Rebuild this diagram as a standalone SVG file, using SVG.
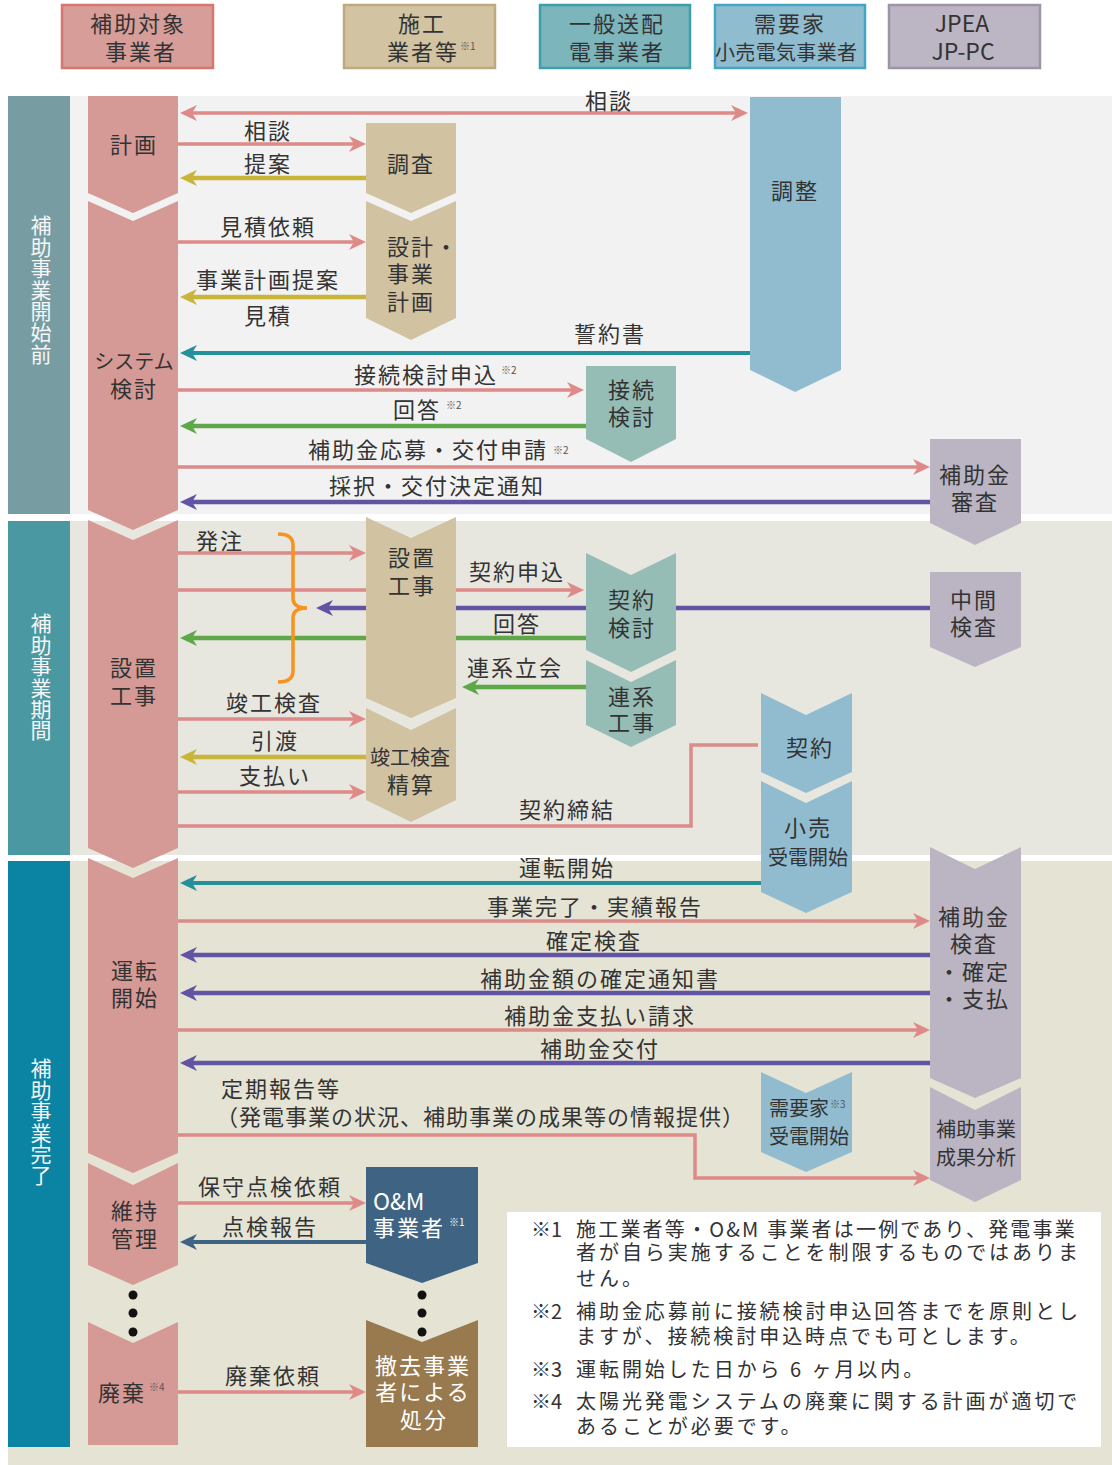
<svg xmlns="http://www.w3.org/2000/svg" width="1112" height="1465" viewBox="0 0 1112 1465">
<style>
text{font-family:"Noto Sans CJK JP","Noto Sans",sans-serif;fill:#333;font-size:22px;letter-spacing:2px;text-anchor:middle}
.st{text-anchor:start}
.s{font-size:20px;letter-spacing:0}
.sup{font-size:10px;letter-spacing:0;fill:#555}
.w{fill:#fff}
.lat{font-size:23px;letter-spacing:0}
.side{fill:#f6f6f6;font-size:21px;letter-spacing:0.4px;writing-mode:vertical-rl;text-anchor:start}
.note{font-size:20px;letter-spacing:2.95px;text-anchor:start;fill:#333}
.nm{font-size:20px;letter-spacing:0;text-anchor:start;fill:#333}
.hp{fill:#d79d99;stroke:#d67670;stroke-width:2.5}
.hb{fill:#d2c3a3;stroke:#bfa97f;stroke-width:2.5}
.ht{fill:#7db5bd;stroke:#3ca0aa;stroke-width:2.5}
.hl{fill:#90bcd0;stroke:#45a6c4;stroke-width:2.5}
.hv{fill:#bcb5c4;stroke:#9d95a5;stroke-width:2.5}
.np{fill:#d69a96}
.nb{fill:#d1c2a2}
.nt{fill:#95bdb6}
.nl{fill:#91bcd0}
.nv{fill:#bbb5c3}
.line{fill:none}
.cp{stroke:#dd8a88;stroke-width:3.5}
.cy{stroke:#c9b53a;stroke-width:4.5}
.ct{stroke:#24909a;stroke-width:4}
.cg{stroke:#5ea84a;stroke-width:4.5}
.cv{stroke:#6154a3;stroke-width:4.5}
.cd{stroke:#3f6483;stroke-width:4}
</style>
<defs>
<marker id="mp" markerUnits="userSpaceOnUse" markerWidth="18" markerHeight="18" viewBox="0 0 18 18" refX="9" refY="9" orient="auto-start-reverse"><path d="M0,1 L17,9 L0,17 L5,9 Z" fill="#dd8a88"/></marker>
<marker id="my" markerUnits="userSpaceOnUse" markerWidth="18" markerHeight="18" viewBox="0 0 18 18" refX="9" refY="9" orient="auto"><path d="M0,1 L17,9 L0,17 L5,9 Z" fill="#c9b53a"/></marker>
<marker id="mt" markerUnits="userSpaceOnUse" markerWidth="18" markerHeight="18" viewBox="0 0 18 18" refX="9" refY="9" orient="auto"><path d="M0,1 L17,9 L0,17 L5,9 Z" fill="#24909a"/></marker>
<marker id="mg" markerUnits="userSpaceOnUse" markerWidth="18" markerHeight="18" viewBox="0 0 18 18" refX="9" refY="9" orient="auto"><path d="M0,1 L17,9 L0,17 L5,9 Z" fill="#5ea84a"/></marker>
<marker id="mv" markerUnits="userSpaceOnUse" markerWidth="18" markerHeight="18" viewBox="0 0 18 18" refX="9" refY="9" orient="auto"><path d="M0,1 L17,9 L0,17 L5,9 Z" fill="#6154a3"/></marker>
<marker id="md" markerUnits="userSpaceOnUse" markerWidth="18" markerHeight="18" viewBox="0 0 18 18" refX="9" refY="9" orient="auto"><path d="M0,1 L17,9 L0,17 L5,9 Z" fill="#3f6483"/></marker>
</defs>
<rect x="0" y="0" width="1112" height="1465" fill="#fff"/>

<g id="headers">
<g id="h-hojo"><rect class="hp" x="62" y="5" width="151" height="63"/><text><tspan x="138" y="32">補助対象</tspan><tspan x="141" y="60">事業者</tspan></text></g>
<g id="h-seko"><rect class="hb" x="344" y="5" width="151" height="63"/><text class="st"><tspan x="398" y="32">施工</tspan><tspan x="387" y="60">業者等</tspan><tspan class="sup" dx="1" dy="-10">※1</tspan></text></g>
<g id="h-ippan"><rect class="ht" x="540" y="5" width="150" height="63"/><text><tspan x="617" y="32">一般送配</tspan><tspan x="617" y="60">電事業者</tspan></text></g>
<g id="h-juyo"><rect class="hl" x="715" y="5" width="150" height="63"/><text x="790" y="32">需要家</text><text x="786" y="60" class="s" textLength="142" lengthAdjust="spacing">小売電気事業者</text></g>
<g id="h-jpea"><rect class="hv" x="889" y="5" width="151" height="63"/><text class="lat"><tspan x="962" y="32">JPEA</tspan><tspan x="963" y="60">JP-PC</tspan></text></g>
</g>

<g id="sections">
<rect x="8" y="96" width="1104" height="418" fill="#f2f2f2"/>
<rect x="8" y="96" width="62" height="418" fill="#779da3"/>
<rect x="8" y="521" width="1104" height="334" fill="#e7e6df"/>
<rect x="8" y="521" width="62" height="334" fill="#4a98a1"/>
<rect x="8" y="861" width="1104" height="604" fill="#e5e3d4"/>
<rect x="8" y="861" width="62" height="586" fill="#0b84a3"/>
<text class="side" x="41" y="215">補助事業開始前</text>
<text class="side" x="41" y="613">補助事業期間</text>
<text class="side" x="41" y="1058">補助事業完了</text>
</g>

<g id="connectors" class="line">
<path class="cp" d="M188,113 H740" marker-start="url(#mp)" marker-end="url(#mp)"/>
<path class="cp" d="M178,144 H358" marker-end="url(#mp)"/>
<path class="cy" d="M366,178 H188" marker-end="url(#my)"/>
<path class="cp" d="M178,242 H358" marker-end="url(#mp)"/>
<path class="cy" d="M366,297 H188" marker-end="url(#my)"/>
<path class="ct" d="M750,353 H188" marker-end="url(#mt)"/>
<path class="cp" d="M178,390 H576" marker-end="url(#mp)"/>
<path class="cg" d="M586,426 H188" marker-end="url(#mg)"/>
<path class="cp" d="M178,467 H922" marker-end="url(#mp)"/>
<path class="cv" d="M930,502 H188" marker-end="url(#mv)"/>
<path class="cp" d="M178,553 H358" marker-end="url(#mp)"/>
<path class="cp" d="M178,590 H576" marker-end="url(#mp)"/>
<path class="cv" d="M930,608 H324" marker-end="url(#mv)"/>
<path class="cg" d="M586,638 H188" marker-end="url(#mg)"/>
<path class="cg" d="M586,687 H470" marker-end="url(#mg)"/>
<path d="M278,534 Q293,534 293,545 V598 Q293,608 307,608 Q293,608 293,618 V671 Q293,682 278,682" stroke="#f7931e" stroke-width="3.5"/>
<path class="cp" d="M178,719 H358" marker-end="url(#mp)"/>
<path class="cy" d="M366,757 H188" marker-end="url(#my)"/>
<path class="cp" d="M178,792 H358" marker-end="url(#mp)"/>
<path class="cp" d="M178,826 H691 V745 H758"/>
<path class="ct" d="M761,883 H188" marker-end="url(#mt)"/>
<path class="cp" d="M178,921 H922" marker-end="url(#mp)"/>
<path class="cv" d="M930,955 H188" marker-end="url(#mv)"/>
<path class="cv" d="M930,993 H188" marker-end="url(#mv)"/>
<path class="cp" d="M178,1030 H922" marker-end="url(#mp)"/>
<path class="cv" d="M930,1063 H188" marker-end="url(#mv)"/>
<path class="cp" d="M178,1135 H695 V1178 H922" marker-end="url(#mp)"/>
<path class="cp" d="M178,1203 H358" marker-end="url(#mp)"/>
<path class="cd" d="M366,1242 H188" marker-end="url(#md)"/>
<path class="cp" d="M178,1392 H358" marker-end="url(#mp)"/>
</g>

<g id="connector-labels">
<text x="609" y="109">相談</text>
<text x="268" y="139">相談</text>
<text x="268" y="172">提案</text>
<text x="268" y="235">見積依頼</text>
<text x="268" y="288">事業計画提案</text>
<text x="268" y="324">見積</text>
<text x="610" y="342">誓約書</text>
<text class="st" x="354" y="383">接続検討申込<tspan class="sup" dx="3" dy="-9">※2</tspan></text>
<text class="st" x="393" y="418">回答<tspan class="sup" dx="5" dy="-9">※2</tspan></text>
<text class="st" x="308" y="458">補助金応募・交付申請<tspan class="sup" dx="5" dy="-4">※2</tspan></text>
<text x="437" y="494">採択・交付決定通知</text>
<text x="220" y="549">発注</text>
<text x="517" y="580">契約申込</text>
<text x="517" y="632">回答</text>
<text x="515" y="676">連系立会</text>
<text x="274" y="711">竣工検査</text>
<text x="275" y="749">引渡</text>
<text x="275" y="784">支払い</text>
<text x="567" y="818">契約締結</text>
<text x="567" y="876">運転開始</text>
<text x="595" y="915">事業完了・実績報告</text>
<text x="594" y="949">確定検査</text>
<text x="600" y="987">補助金額の確定通知書</text>
<text x="600" y="1024">補助金支払い請求</text>
<text x="600" y="1057">補助金交付</text>
<text class="st"><tspan x="221" y="1097">定期報告等</tspan><tspan x="216" y="1125" letter-spacing="1px">（発電事業の状況、補助事業の成果等の情報提供）</tspan></text>
<text x="270" y="1195">保守点検依頼</text>
<text x="270" y="1235">点検報告</text>
<text x="273" y="1384">廃棄依頼</text>
</g>

<g id="n-keikaku"><polygon class="np" points="88,96 178,96 178,193 133,213 88,193"/><text x="134" y="153">計画</text></g>
<g id="n-system"><polygon class="np" points="88,201 133,221 178,201 178,510 133,530 88,510"/><text><tspan class="s" x="134" y="369" letter-spacing="-1.3px">システム</tspan><tspan x="134" y="397">検討</tspan></text></g>
<g id="n-secchi-p"><polygon class="np" points="88,520 133,540 178,520 178,848 133,868 88,848"/><text><tspan x="134" y="676">設置</tspan><tspan x="134" y="704">工事</tspan></text></g>
<g id="n-unten"><polygon class="np" points="88,858 133,878 178,858 178,1153 133,1173 88,1153"/><text><tspan x="135" y="979">運転</tspan><tspan x="135" y="1006">開始</tspan></text></g>
<g id="n-iji"><polygon class="np" points="88,1163 133,1185 178,1163 178,1265 133,1285 88,1265"/><text><tspan x="135" y="1219">維持</tspan><tspan x="135" y="1247">管理</tspan></text></g>
<g id="dots-p"><circle cx="133" cy="1295" r="4.5" fill="#111"/><circle cx="133" cy="1313" r="4.5" fill="#111"/><circle cx="133" cy="1332" r="4.5" fill="#111"/></g>
<g id="n-haiki"><polygon class="np" points="88,1322 133,1343 178,1322 178,1445 88,1445"/><text class="st" x="98" y="1401">廃棄<tspan class="sup" dx="3" dy="-10">※4</tspan></text></g>

<g id="n-chosa"><polygon class="nb" points="366,123 456,123 456,193 411,213 366,193"/><text x="411" y="172">調査</text></g>
<g id="n-sekkei"><polygon class="nb" points="366,201 411,221 456,201 456,318 411,340 366,318"/><text class="st"><tspan x="387" y="255">設計・</tspan><tspan x="387" y="282">事業</tspan><tspan x="387" y="310">計画</tspan></text></g>
<g id="n-secchi-b"><polygon class="nb" points="366,517 411,538 456,517 456,698 411,718 366,698"/><text><tspan x="412" y="566">設置</tspan><tspan x="412" y="594">工事</tspan></text></g>
<g id="n-shunko"><polygon class="nb" points="366,708 411,730 456,708 456,800 411,822 366,800"/><text><tspan class="s" x="410" y="765">竣工検査</tspan><tspan x="411" y="793">精算</tspan></text></g>
<g id="n-om"><polygon points="366,1167 478,1167 478,1263 422,1283 366,1263" fill="#3f6483"/><text class="st w"><tspan class="lat" x="373" y="1210">O&amp;M</tspan><tspan x="373" y="1236">事業者</tspan><tspan class="sup w" dx="4" dy="-10">※1</tspan></text></g>
<g id="dots-b"><circle cx="422" cy="1295" r="4.5" fill="#111"/><circle cx="422" cy="1313" r="4.5" fill="#111"/><circle cx="422" cy="1332" r="4.5" fill="#111"/></g>
<g id="n-tekkyo"><polygon points="366,1320 422,1342 478,1320 478,1447 366,1447" fill="#987a4e"/><text class="w"><tspan x="423" y="1374">撤去事業</tspan><tspan x="423" y="1400">者による</tspan><tspan x="424" y="1428">処分</tspan></text></g>

<g id="n-setsuzoku"><polygon class="nt" points="586,366 676,366 676,439 631,462 586,439"/><text><tspan x="632" y="398">接続</tspan><tspan x="632" y="425">検討</tspan></text></g>
<g id="n-keiyakukento"><polygon class="nt" points="586,553 631,575 676,553 676,650 631,672 586,650"/><text><tspan x="632" y="608">契約</tspan><tspan x="632" y="636">検討</tspan></text></g>
<g id="n-renkei"><polygon class="nt" points="586,660 631,682 676,660 676,725 631,747 586,725"/><text><tspan x="632" y="705">連系</tspan><tspan x="632" y="731">工事</tspan></text></g>

<g id="n-chosei"><polygon class="nl" points="750,97 841,97 841,370 795,392 750,370"/><text x="795" y="199">調整</text></g>
<g id="n-keiyaku"><polygon class="nl" points="761,693 806,715 852,693 852,772 806,793 761,772"/><text x="810" y="756">契約</text></g>
<g id="n-kouri"><polygon class="nl" points="761,781 806,803 852,781 852,892 806,913 761,892"/><text><tspan x="808" y="836">小売</tspan><tspan class="s" x="808" y="865">受電開始</tspan></text></g>
<g id="n-juyoka"><polygon class="nl" points="761,1072 806,1093 852,1072 852,1152 806,1172 761,1152"/><text class="st s"><tspan x="769" y="1116">需要家</tspan><tspan class="sup" dx="1" dy="-8">※3</tspan><tspan x="769" y="1144">受電開始</tspan></text></g>

<g id="n-shinsa"><polygon class="nv" points="930,439 1021,439 1021,523 975,545 930,523"/><text><tspan x="975" y="483">補助金</tspan><tspan x="975" y="510">審査</tspan></text></g>
<g id="n-chukan"><polygon class="nv" points="930,572 1021,572 1021,647 975,667 930,647"/><text><tspan x="974" y="608">中間</tspan><tspan x="974" y="635">検査</tspan></text></g>
<g id="n-kensa"><polygon class="nv" points="930,847 975,869 1021,847 1021,1078 975,1098 930,1078"/><text><tspan x="974" y="925">補助金</tspan><tspan x="974" y="952">検査</tspan><tspan x="974" y="980">・確定</tspan><tspan x="974" y="1007">・支払</tspan></text></g>
<g id="n-seika"><polygon class="nv" points="930,1087 975,1110 1021,1087 1021,1180 975,1202 930,1180"/><text class="s"><tspan x="976" y="1137">補助事業</tspan><tspan x="976" y="1165">成果分析</tspan></text></g>

<g id="notes">
<rect x="507" y="1212" width="594" height="235" fill="#fff"/>
<text class="nm"><tspan x="531" y="1237">※1</tspan><tspan x="531" y="1319">※2</tspan><tspan x="531" y="1377">※3</tspan><tspan x="531" y="1409">※4</tspan></text>
<text class="note"><tspan x="576" y="1237" letter-spacing="2.2px">施工業者等・O&amp;M 事業者は一例であり、発電事業</tspan><tspan x="576" y="1260">者が自ら実施することを制限するものではありま</tspan><tspan x="576" y="1286">せん。</tspan></text>
<text class="note"><tspan x="576" y="1319">補助金応募前に接続検討申込回答までを原則とし</tspan><tspan x="576" y="1344">ますが、接続検討申込時点でも可とします。</tspan></text>
<text class="note" x="576" y="1377">運転開始した日から 6 ヶ月以内。</text>
<text class="note"><tspan x="576" y="1409">太陽光発電システムの廃棄に関する計画が適切で</tspan><tspan x="576" y="1434">あることが必要です。</tspan></text>
</g>
</svg>
